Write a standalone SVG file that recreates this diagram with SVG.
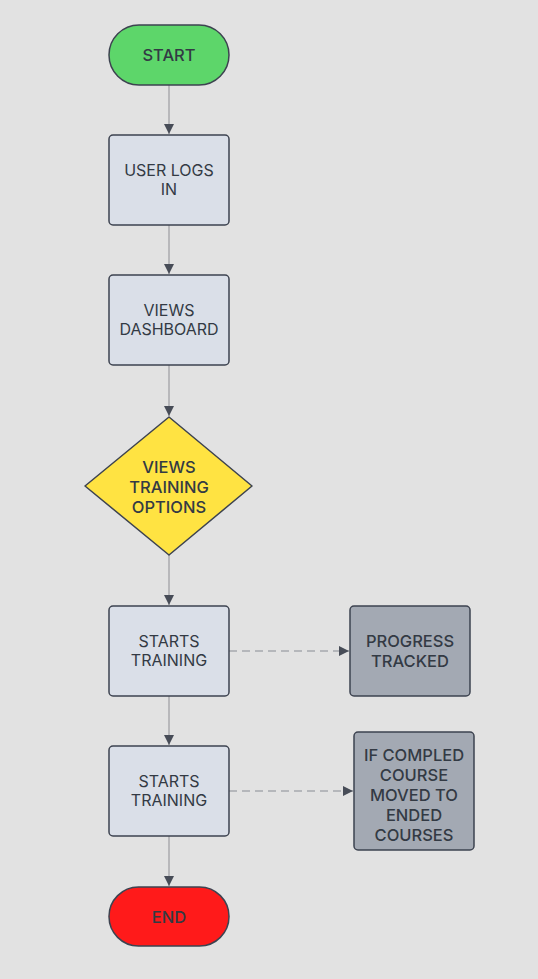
<svg xmlns="http://www.w3.org/2000/svg" width="538" height="979" viewBox="0 0 538 979">
<style>
text{font-family:Inter,"Liberation Sans",sans-serif;font-size:16px;fill:#333a44;text-anchor:middle;dominant-baseline:central}
.b text{font-weight:500;font-size:16.5px}
.box{fill:#dadfe8;stroke:#3d4350;stroke-width:1.5}
.dark{fill:#a3a9b3;stroke:#3d4350;stroke-width:1.5}
.ln{stroke:#b8b8bb;stroke-width:2;fill:none}
.dash{stroke:#a6a9ae;stroke-width:1.5;fill:none;stroke-dasharray:8 5}
</style>
<defs>
<marker id="ah" viewBox="0 0 10 10" refX="10" refY="5" markerWidth="10" markerHeight="10" markerUnits="userSpaceOnUse" orient="auto">
<path d="M0,0 L10,5 L0,10 z" fill="#474c57"/>
</marker>
</defs>
<rect width="538" height="979" fill="#e2e2e2"/>
<g id="connectors">
<line class="ln" x1="169" y1="85" x2="169" y2="134" marker-end="url(#ah)"/>
<line class="ln" x1="169" y1="225" x2="169" y2="274" marker-end="url(#ah)"/>
<line class="ln" x1="169" y1="365" x2="169" y2="416" marker-end="url(#ah)"/>
<line class="ln" x1="169" y1="555" x2="169" y2="605" marker-end="url(#ah)"/>
<line class="ln" x1="169" y1="696" x2="169" y2="745" marker-end="url(#ah)"/>
<line class="ln" x1="169" y1="836" x2="169" y2="886" marker-end="url(#ah)"/>
<line class="dash" x1="229" y1="651" x2="349" y2="651" marker-end="url(#ah)"/>
<line class="dash" x1="229" y1="791" x2="353" y2="791" marker-end="url(#ah)"/>
</g>
<g id="start" class="b">
<rect x="109" y="25" width="120" height="60" rx="30" fill="#5dd66a" stroke="#3d4350" stroke-width="1.5"/>
<text x="169" y="55">START</text>
</g>
<g id="login">
<rect class="box" x="109" y="135" width="120" height="90" rx="4"/>
<text x="169" y="170">USER LOGS</text>
<text x="169" y="189">IN</text>
</g>
<g id="dashboard">
<rect class="box" x="109" y="275" width="120" height="90" rx="4"/>
<text x="169" y="310">VIEWS</text>
<text x="169" y="329">DASHBOARD</text>
</g>
<g id="options" class="b">
<path d="M169,417 L252,486 L169,555 L85,486 Z" fill="#ffe342" stroke="#3d4350" stroke-width="1.5" stroke-linejoin="round"/>
<text x="169" y="467">VIEWS</text>
<text x="169" y="487">TRAINING</text>
<text x="169" y="507">OPTIONS</text>
</g>
<g id="training1">
<rect class="box" x="109" y="606" width="120" height="90" rx="4"/>
<text x="169" y="641">STARTS</text>
<text x="169" y="660">TRAINING</text>
</g>
<g id="progress" class="b">
<rect class="dark" x="350" y="606" width="120" height="90" rx="4"/>
<text x="410" y="641">PROGRESS</text>
<text x="410" y="661">TRACKED</text>
</g>
<g id="training2">
<rect class="box" x="109" y="746" width="120" height="90" rx="4"/>
<text x="169" y="781">STARTS</text>
<text x="169" y="800">TRAINING</text>
</g>
<g id="completed" class="b">
<rect class="dark" x="354" y="732" width="120" height="118" rx="4"/>
<text x="414" y="755">IF COMPLED</text>
<text x="414" y="775">COURSE</text>
<text x="414" y="795">MOVED TO</text>
<text x="414" y="815">ENDED</text>
<text x="414" y="835">COURSES</text>
</g>
<g id="end" class="b">
<rect x="109" y="887" width="120" height="59" rx="29.5" fill="#ff1a1a" stroke="#3d4350" stroke-width="1.5"/>
<text x="169" y="917">END</text>
</g>
</svg>
